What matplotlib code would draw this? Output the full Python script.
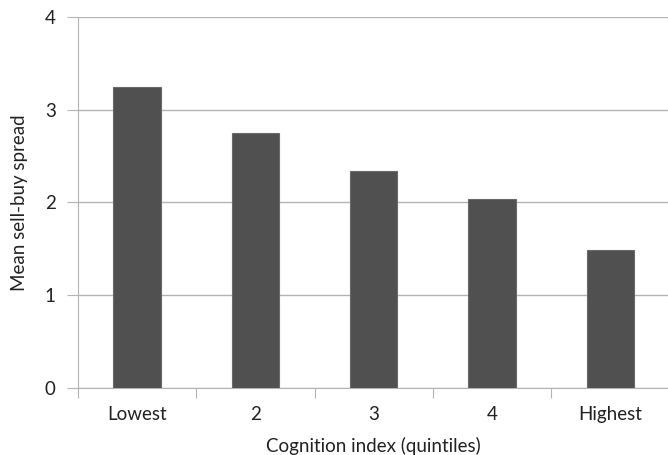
import matplotlib
matplotlib.use("Agg")
import matplotlib.pyplot as plt

categories = ["Lowest", "2", "3", "4", "Highest"]
values = [3.25, 2.75, 2.34, 2.04, 1.49]
yticks = [0, 1, 2, 3, 4]

plt.rcParams['font.family'] = ['Lato', 'DejaVu Sans']

fig = plt.figure(figsize=(6.68, 4.55), dpi=100)
ax = fig.add_axes([78/668, (455-387.7)/455, (669.5-78)/668, (387.7-17)/455])

grid_c = "#b4b4b4"
fs = 13.5
x = list(range(len(categories)))
ax.bar(x, values, width=0.4, color="#505050", edgecolor="#6a6a6a", linewidth=0.8, zorder=3)

ax.set_xlim(-0.5, 4.5)
ax.set_ylim(0, 4)
ax.set_yticks(yticks)
ax.set_yticklabels([str(t) for t in yticks])
ax.yaxis.grid(True, color=grid_c, linewidth=1, zorder=0)
ax.set_xticks([i - 0.5 for i in range(len(categories) + 1)])
ax.set_xticklabels([])
ax.set_xticks(x, minor=True)
ax.set_xticklabels(categories, minor=True)
ax.tick_params(axis='x', which='major', length=7, color=grid_c, direction='out')
ax.tick_params(axis='x', which='minor', length=0, pad=13, labelsize=fs, labelcolor="#222222")
ax.tick_params(axis='y', length=8, color=grid_c, pad=8, labelsize=fs, labelcolor="#222222")

for s in ['top', 'right']:
    ax.spines[s].set_visible(False)
ax.spines['left'].set_color(grid_c)
ax.spines['bottom'].set_color(grid_c)

ax.set_xlabel("Cognition index (quintiles)", fontsize=fs, color="#222222", labelpad=10)
ax.set_ylabel("Mean sell-buy spread", fontsize=fs, color="#222222", labelpad=12)

fig.savefig("out.png", dpi=100)
